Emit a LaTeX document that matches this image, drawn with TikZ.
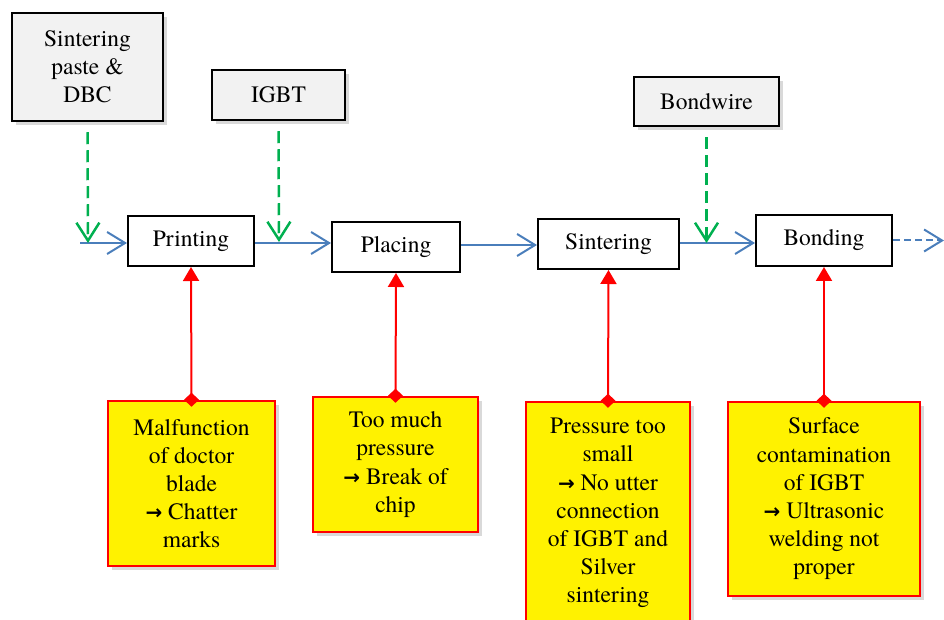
\documentclass[tikz,border=0pt]{standalone}
\usepackage{fontspec}
\setmainfont{texgyretermes}[Extension=.otf, UprightFont=*-regular, BoldFont=*-bold, ItalicFont=*-italic, BoldItalicFont=*-bolditalic]
\newfontfamily\arr{DejaVu Sans}
\newcommand{\rarr}{{\arr\bfseries\fontsize{20}{28.2}\selectfont →}}
\usetikzlibrary{arrows.meta,shadows}
\definecolor{offblue}{HTML}{4A7EBB}
\definecolor{offgreen}{HTML}{00B050}
\definecolor{boxgray}{HTML}{F2F2F2}
\tikzset{
  txt/.style={font=\rmfamily\fontsize{23.5}{28.2}\selectfont, align=center, inner sep=0pt},
  inputbox/.style={txt, draw=black, line width=2.5pt, fill=boxgray,
    drop shadow={opacity=0.3, shadow xshift=4pt, shadow yshift=-4pt}},
  procbox/.style={txt, draw=black, line width=2pt, fill=white},
  failbox/.style={txt, draw=red, line width=2.5pt, fill=yellow,
    drop shadow={opacity=0.3, shadow xshift=4pt, shadow yshift=-4pt}},
  flow/.style={draw=offblue, line width=2pt, -{Straight Barb[length=18pt,width=22pt,line width=2pt]}},
  flowdash/.style={flow, dash pattern=on 7pt off 4pt},
  feed/.style={draw=offgreen, line width=2.5pt, dash pattern=on 12pt off 6pt,
    -{Straight Barb[length=18pt,width=23pt,line width=2.5pt]}, shorten <=10pt},
  cause/.style={draw=red, line width=2pt,
    {Turned Square[length=14pt,width=15pt]}-{Triangle[length=14pt,width=16pt]},
    shorten <=-7pt}
}
\begin{document}
\begin{tikzpicture}[x=1pt,y=1pt]
\useasboundingbox (0,0) rectangle (944,619);
% input boxes
\node[inputbox, minimum width=151pt, minimum height=108pt] (paste) at (87.5,552) {Sintering\\paste \&\\DBC};
\node[inputbox, minimum width=133pt, minimum height=50pt] (igbt) at (278.5,524) {IGBT};
\node[inputbox, minimum width=145pt, minimum height=49pt] (wire) at (706.5,517.5) {Bondwire};
% process boxes
\node[procbox, minimum width=126pt, minimum height=50pt] (print) at (191,378) {Printing};
\node[procbox, minimum width=128pt, minimum height=50pt] (place) at (396,372) {Placing};
\node[procbox, minimum width=141pt, minimum height=50pt] (sinter) at (608.5,375) {Sintering};
\node[procbox, minimum width=136pt, minimum height=51pt] (bond) at (824,378.5) {Bonding};
% failure boxes
\node[failbox, minimum width=167pt, minimum height=165pt] (f1) at (191.5,135.5) {Malfunction\\of doctor\\blade\\\rarr{} Chatter\\marks};
\node[failbox, minimum width=165pt, minimum height=135pt] (f2) at (395.5,154.5) {Too much\\pressure\\\rarr{} Break of\\chip};
\node[failbox, minimum width=164pt, minimum height=222pt] (f3) at (608,106) {Pressure too\\small\\\rarr{} No utter\\connection\\of IGBT and\\Silver\\sintering};
\node[failbox, minimum width=192pt, minimum height=194pt] (f4) at (824,120) {Surface\\contamination\\of IGBT\\\rarr{} Ultrasonic\\welding not\\proper};
% free ends
\coordinate (in) at (80,376);
\coordinate (out) at (944,378.5);
\coordinate (g1) at (88,376);
\coordinate (g2) at (279,377);
\coordinate (g3) at (706.5,376);
% main flow
\draw[flow] (in) -- (print.west |- in);
\draw[flow] (print.east |- 0,376) -- (place.west |- 0,376);
\draw[flow] (place.east |- 0,374) -- (sinter.west |- 0,374);
\draw[flow] (sinter.east |- 0,376) -- (bond.west |- 0,376);
\draw[flowdash] (bond.east) -- (out);
% feeds
\draw[feed] (paste.south) -- (g1);
\draw[feed] (igbt.south) -- (g2);
\draw[feed] (wire.south) -- (g3);
% causes
\draw[cause] (f1.north) -- (print.south);
\draw[cause] (f2.north) -- (place.south);
\draw[cause] (f3.north) -- (sinter.south);
\draw[cause] (f4.north) -- (bond.south);
\end{tikzpicture}
\end{document}
